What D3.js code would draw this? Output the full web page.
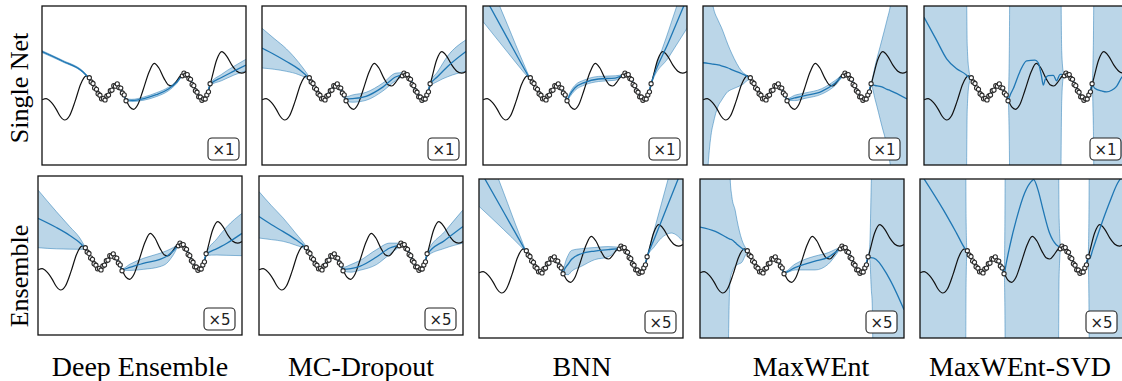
<!DOCTYPE html>
<html>
<head>
<meta charset="utf-8">
<script src="https://cdn.jsdelivr.net/npm/d3@7"></script>
<style>
	body { margin: 0; background: #fff; }
	svg { display: block; }
</style>
</head>
<body>
<svg id="chart" width="1122" height="381"></svg>
<script>

// ground truth curve, plot units (x 0..100, y 0..100)
const truthX = [0, 2, 4.5, 7, 9, 11.1, 13.5, 16.2, 19, 21.7, 24, 26.5, 28.5, 30.2, 32, 34.5, 36.7, 38.8, 41, 43, 44.9, 47, 49.5, 52.5, 55, 57.3, 59.8, 61.8, 63.6, 65.5, 67.8, 70.1, 72.3, 74.5, 76.8, 79.1, 81, 83.3, 85.6, 88.1, 90.5, 93, 95.5, 97.8, 100];
const truthY = [41, 41.8, 39.5, 35, 30.5, 28.3, 31, 40, 51, 56, 53, 47.5, 43, 41.3, 43, 48, 50.3, 47.5, 41.5, 36.5, 35, 38, 47, 58.5, 63.9, 61, 54.5, 50.5, 49.7, 52, 56, 57.2, 54.5, 49, 43.5, 40.9, 44, 55, 66, 71.3, 68.5, 63, 59, 57.8, 58.8];

// training points
const pointsX = [23.2, 24.1, 25.0, 25.8, 26.7, 27.5, 28.4, 29.2, 30.1, 30.9, 31.8, 32.6, 33.5, 34.3, 35.2, 36.0, 36.9, 37.7, 38.6, 39.4, 40.3, 41.2,
	68.8, 69.6, 70.4, 71.2, 72.0, 72.8, 73.6, 74.4, 75.2, 76.0, 76.8, 77.6, 78.4, 79.2, 80.0, 80.8, 81.6, 82.4];
const pointsY = [54.9, 52.2, 51.3, 48.5, 47.6, 44.8, 43.9, 41.6, 41.9, 40.9, 43.4, 44.0, 46.7, 47.1, 49.9, 49.6, 51.0, 48.7, 48.4, 45.3, 44.1, 40.4,
	56.1, 57.8, 56.6, 56.9, 54.4, 53.9, 50.7, 49.9, 46.7, 45.8, 42.9, 42.8, 40.7, 41.6, 41.5, 44.1, 46.0, 51.1];

const methods = ['Deep Ensemble', 'MC-Dropout', 'BNN', 'MaxWEnt', 'MaxWEnt-SVD'];
const rowNames = ['Single Net', 'Ensemble'];
const badges = ['×1', '×5'];

// predictions per panel: [x, mean, lower, upper]
const deSingle = [
	[0, 71.3, 70.7, 71.9], [10, 65.4, 64.9, 65.9], [20, 58.6, 58.1, 59.1],
	[23, 54.5, 54.0, 55.0], [26.5, 47.5, 47.0, 48.0], [30.2, 41.6, 41.1, 42.1], [33.5, 46.3, 45.8, 46.8],
	[36.7, 50.2, 49.7, 50.7], [39, 46.8, 46.3, 47.3], [41.3, 41.2, 40.7, 41.7],
	[44, 40.6, 39.9, 41.3], [50, 41.8, 40.8, 42.8], [56, 44.2, 43.0, 45.4], [62, 47.8, 46.7, 48.9], [66, 52.0, 51.2, 52.8],
	[69, 56.6, 56.1, 57.1], [70.1, 57.1, 56.6, 57.6], [72.5, 54.2, 53.7, 54.7], [75, 48.0, 47.5, 48.5],
	[77, 43.3, 42.8, 43.8], [79.1, 41.0, 40.5, 41.5], [81, 44.5, 44.0, 45.0], [82.4, 50.5, 50.0, 51.0],
	[88, 55.0, 53.0, 57.0], [94, 59.0, 56.5, 62.0], [100, 62.9, 59.3, 66.5]
];
const mcSingle = [
	[0, 73.5, 61.0, 86.0], [6, 69.5, 60.2, 79.5], [12, 65.1, 58.9, 73.0], [18, 60.3, 56.8, 64.5],
	[23, 54.5, 53.2, 55.8], [26.5, 47.5, 46.2, 48.8], [30.2, 41.6, 40.3, 42.9], [33.5, 46.3, 45.0, 47.6],
	[36.7, 50.2, 48.9, 51.5], [39, 46.8, 45.5, 48.1], [41.3, 41.5, 40.0, 43.0],
	[44.5, 41.8, 39.5, 44.1], [51, 43.2, 40.7, 45.7], [59.2, 49.0, 46.5, 51.5], [65.7, 55.5, 53.2, 57.8],
	[69, 56.8, 55.5, 58.1], [70.1, 57.1, 55.8, 58.4], [72.5, 54.2, 52.9, 55.5], [75, 48.0, 46.7, 49.3],
	[77, 43.3, 42.0, 44.6], [79.1, 41.0, 39.7, 42.3], [81, 44.5, 43.2, 45.8], [82.4, 50.5, 49.2, 51.8],
	[86, 55.5, 52.5, 58.5], [91, 62.0, 55.5, 68.5], [100, 71.4, 59.0, 78.7]
];
const bnnSingle = [
	[0, 107.7, 90.2, 125.0], [12, 79.6, 71.0, 88.2], [20, 61.0, 58.3, 63.5],
	[23, 54.3, 53.8, 54.8], [26.5, 47.5, 47.0, 48.0], [30.2, 41.6, 41.1, 42.1], [33.5, 46.3, 45.8, 46.8],
	[36.7, 50.2, 49.7, 50.7], [39, 46.8, 46.3, 47.3], [41.3, 41.2, 40.7, 41.7],
	[42.5, 44.0, 42.8, 45.2], [45, 48.4, 46.8, 50.0], [50, 52.0, 50.4, 53.6], [56.6, 54.1, 52.5, 55.7], [64.8, 54.7, 53.3, 56.1],
	[69, 56.6, 56.1, 57.1], [70.1, 57.1, 56.6, 57.6], [72.5, 54.2, 53.7, 54.7], [75, 48.0, 47.5, 48.5],
	[77, 43.3, 42.8, 43.8], [79.1, 41.0, 40.5, 41.5], [81, 44.5, 44.0, 45.0], [82.4, 51.0, 50.5, 51.5],
	[91, 77.3, 67.7, 84.6], [100, 104.9, 86.0, 119.3]
];
const mweSingle = [
	[0, 64.3, -60, 170], [2.5, 63.9, 0, 125], [4.1, 63.6, 20.3, 106], [5, 63.4, 26, 99.5], [7.4, 62.9, 37, 91],
	[9, 62.4, 40.5, 86.6], [12.3, 61.0, 46.3, 75.5], [14, 60.0, 47.5, 70.4], [19, 57.4, 50.3, 58.9],
	[23, 54.3, 53.8, 54.8], [26.5, 47.5, 47.0, 48.0], [30.2, 41.6, 41.1, 42.1], [33.5, 46.3, 45.8, 46.8],
	[36.7, 50.2, 49.7, 50.7], [39, 46.8, 46.3, 47.3], [41.3, 41.2, 40.6, 41.8],
	[45, 42.2, 40.5, 43.9], [50, 43.6, 41.9, 45.3], [58.2, 46.3, 44.6, 48.0], [64.8, 51.6, 50.0, 53.2],
	[69, 56.6, 56.0, 57.2], [70.1, 57.1, 56.6, 57.6], [72.5, 54.2, 53.7, 54.7], [75, 48.0, 47.5, 48.5],
	[77, 43.3, 42.8, 43.8], [79.1, 41.0, 40.5, 41.5], [81, 44.5, 44.0, 45.0], [82.4, 50.5, 50.0, 51.0],
	[84.4, 50.0, 41.1, 62.4], [87.7, 49.1, 24.4, 78.7], [90.2, 47.6, 11.9, 91.2], [91.8, 46.8, 0, 100],
	[94, 45.5, -25, 125], [100, 41.5, -60, 170]
];
const svdSingle = [
	[0, 93.0, -60, 170], [6.2, 78.4, -60, 170], [11.1, 66.8, -60, 170], [16, 60.5, -60, 170], [20.4, 57.0, -60, 170],
	[21.2, 56.0, 35, 75], [22.1, 55.2, 51, 59],
	[23, 54.5, 54.0, 55.0], [26.5, 47.5, 47.0, 48.0], [30.2, 41.6, 41.1, 42.1], [33.5, 46.3, 45.8, 46.8],
	[36.7, 50.2, 49.7, 50.7], [39, 46.8, 46.3, 47.3], [41.3, 41.2, 40.7, 41.7],
	[41.8, 42.5, 15, 70], [42.4, 44.5, -60, 170], [43.8, 48.1, -60, 170], [47, 58.7, -60, 170], [50.3, 65.5, -60, 170],
	[54.4, 65.9, -60, 170], [56, 64.3, -60, 170], [57.5, 56.5, -60, 170], [58.5, 50.2, -60, 170], [59.3, 53.4, -60, 170],
	[60.9, 56.2, -60, 170], [63.4, 56.4, -60, 170], [65, 53.0, -60, 170], [66.7, 57.0, -60, 170],
	[67.5, 57.0, 40, 72], [68.3, 56.8, 55, 58.5],
	[69, 56.6, 56.1, 57.1], [70.1, 57.1, 56.6, 57.6], [72.5, 54.2, 53.7, 54.7], [75, 48.0, 47.5, 48.5],
	[77, 43.3, 42.8, 43.8], [79.1, 41.0, 40.5, 41.5], [81, 44.5, 44.0, 45.0], [82.4, 50.5, 50.0, 51.0],
	[83, 49.5, 25, 75], [83.7, 48.3, -60, 170], [87.1, 46.6, -60, 170], [89.5, 46.0, -60, 170], [92, 47.0, -60, 170],
	[94.4, 49.5, -60, 170], [97, 55.3, -60, 170], [100, 58.5, -60, 170]
];
const deEnsemble = [
	[0, 73.4, 54.9, 91.2], [9, 67.6, 54.2, 77.6], [15.6, 62.6, 54.0, 68.1], [20.5, 58.0, 53.9, 61.0],
	[23, 54.7, 53.9, 55.6], [26.5, 47.5, 47.0, 48.0], [30.2, 41.6, 41.1, 42.1], [33.5, 46.3, 45.8, 46.8],
	[36.7, 50.2, 49.7, 50.7], [39, 46.8, 46.3, 47.3], [41.3, 41.2, 40.7, 41.7],
	[45, 42.5, 40.6, 44.5], [51.6, 45.1, 41.3, 48.2], [59.8, 47.6, 43.0, 51.4], [63.1, 49.5, 45.1, 53.0], [66.4, 53.0, 50.5, 55.1],
	[69, 56.6, 56.1, 57.1], [70.1, 57.1, 56.6, 57.6], [72.5, 54.2, 53.7, 54.7], [75, 48.0, 47.5, 48.5],
	[77, 43.3, 42.8, 43.8], [79.1, 41.0, 40.5, 41.5], [81, 44.5, 44.0, 45.0], [82.4, 50.5, 50.0, 51.0],
	[87.7, 54.3, 50.3, 60.5], [92.6, 57.7, 50.1, 68.1], [100, 63.9, 49.9, 76.5]
];
const mcEnsemble = [
	[0, 74.5, 61.0, 90.2], [6, 69.5, 60.0, 81.5], [11.9, 65.0, 58.9, 73.5], [18, 60.0, 56.5, 64.0],
	[23, 54.8, 53.6, 56.0], [26.5, 47.5, 46.3, 48.7], [30.2, 41.6, 40.4, 42.8], [33.5, 46.3, 45.1, 47.5],
	[36.7, 50.2, 49.0, 51.4], [39, 46.8, 45.6, 48.0], [41.3, 41.4, 40.2, 42.6],
	[45, 41.8, 39.5, 44.3], [49.4, 43.2, 40.7, 46.8], [57.6, 49.1, 44.3, 53.7], [64.1, 54.7, 50.8, 57.8],
	[69, 56.6, 55.4, 57.8], [70.1, 57.1, 56.1, 58.1], [72.5, 54.2, 53.2, 55.2], [75, 48.0, 47.0, 49.0],
	[77, 43.3, 42.3, 44.3], [79.1, 41.0, 40.0, 42.0], [81, 44.5, 43.5, 45.5], [82.4, 50.5, 49.5, 51.5],
	[91, 59.5, 54.5, 65.0], [100, 68.3, 57.8, 78.7]
];
const bnnEnsemble = [
	[0, 106.6, 82.8, 132.0], [12, 79.4, 68.3, 91.7], [20, 61.2, 58.2, 64.5],
	[23, 54.5, 54.0, 55.0], [26.5, 47.5, 47.0, 48.0], [30.2, 41.6, 41.1, 42.1], [33.5, 46.3, 45.8, 46.8],
	[36.7, 50.2, 49.7, 50.7], [39, 46.8, 46.3, 47.3], [41.3, 41.2, 40.7, 41.7],
	[42, 43.4, 40.0, 46.0], [43.7, 46.5, 39.8, 52.0], [45.4, 49.5, 42.0, 55.1], [50.2, 53.0, 45.1, 56.2],
	[56.8, 54.7, 49.3, 56.9], [63.3, 55.6, 51.0, 57.5],
	[69, 56.6, 56.1, 57.1], [70.1, 57.1, 56.6, 57.6], [72.5, 54.2, 53.7, 54.7], [75, 48.0, 47.5, 48.5],
	[77, 43.3, 42.8, 43.8], [79.1, 41.0, 40.5, 41.5], [81, 44.5, 44.0, 45.0], [82.4, 51.0, 50.5, 51.5],
	[86, 62.6, 57.5, 68.4], [89.4, 73.5, 62.9, 84.4], [94.3, 89.3, 66.0, 107.5], [100, 107.7, 60.8, 134.0]
];
const mweEnsemble = [
	[0, 69.8, -60, 170], [7.5, 67.1, -60, 170], [13.4, 63.0, -50, 165], [14, 62.6, 0, 140], [14.3, 62.4, 22, 125],
	[14.8, 62.1, 36.7, 100], [15.6, 61.8, 41.0, 89.1], [17.3, 60.0, 45.1, 80.0], [18.1, 59.0, 46.0, 74.4], [20.5, 56.5, 47.6, 61.8],
	[23, 54.2, 53.0, 55.3], [26.5, 47.5, 47.0, 48.0], [30.2, 41.6, 41.1, 42.1], [33.5, 46.3, 45.8, 46.8],
	[36.7, 50.2, 49.7, 50.7], [39, 46.8, 46.3, 47.3], [41.3, 41.2, 40.7, 41.7],
	[46.6, 44.3, 42.8, 46.5], [51.5, 46.5, 42.8, 49.5], [56.4, 48.3, 42.8, 51.5], [62.9, 50.9, 46.5, 53.7], [66.5, 54.0, 52.0, 55.8],
	[69, 56.6, 56.1, 57.1], [70.1, 57.1, 56.6, 57.6], [72.5, 54.2, 53.7, 54.7], [75, 48.0, 47.5, 48.5],
	[77, 43.3, 42.8, 43.8], [79.1, 41.0, 40.5, 41.5], [81, 44.5, 44.0, 45.0], [82.4, 50.8, 50.3, 51.3],
	[83.2, 50.6, 49.3, 57.7], [84, 50.5, 30.0, 100], [84.4, 50.4, 22.0, 120], [85.2, 50.3, -40, 160],
	[92.2, 38.8, -60, 170], [100, 17.8, -60, 170]
];
const svdEnsemble = [
	[0, 104.0, -60, 170], [11.4, 80.7, -60, 170], [17.9, 66.0, -60, 170], [22.2, 56.0, -60, 170], [22.6, 55.4, 35, 75],
	[23, 54.5, 54.0, 55.0], [26.5, 47.5, 47.0, 48.0], [30.2, 41.6, 41.1, 42.1], [33.5, 46.3, 45.8, 46.8],
	[36.7, 50.2, 49.7, 50.7], [39, 46.8, 46.3, 47.3], [41.3, 41.2, 40.7, 41.7],
	[41.6, 42.0, 20, 70], [42, 45.0, -60, 170], [44, 57.7, -60, 170], [47.2, 74.4, -60, 170], [51.3, 91.2, -60, 170],
	[54.6, 98.5, -60, 170], [55.7, 99.6, -60, 170], [57.8, 93.3, -60, 170], [60.3, 80.7, -60, 170], [63.5, 66.0, -60, 170],
	[66.8, 58.7, -60, 170], [67.6, 57.9, -60, 170], [68.2, 57.4, 40, 75],
	[69, 56.6, 56.1, 57.1], [70.1, 57.1, 56.6, 57.6], [72.5, 54.2, 53.7, 54.7], [75, 48.0, 47.5, 48.5],
	[77, 43.3, 42.8, 43.8], [79.1, 41.0, 40.5, 41.5], [81, 44.5, 44.0, 45.0], [82.4, 50.5, 50.0, 51.0],
	[82.8, 49.8, 25, 75], [83.2, 50.0, -60, 170], [84.7, 55.6, -60, 170], [88, 68.1, -60, 170],
	[92.8, 84.9, -60, 170], [96.9, 97.5, -60, 170], [100, 103.0, -60, 170]
];

const predictions = [
	[deSingle, mcSingle, bnnSingle, mweSingle, svdSingle],
	[deEnsemble, mcEnsemble, bnnEnsemble, mweEnsemble, svdEnsemble]
];

// layout (pixels)
const PANEL_W = 204,
	PANEL_H = 159,
	panelLeft = [[42, 262, 483, 703, 924], [38, 259, 479, 700, 920]],
	panelTop = [[6, 6, 6, 6, 6], [176, 176, 179, 179, 179]],
	titleX = [140, 361, 582, 811, 1020],
	rowLabelY = [88, 276];

const BLUE = '#1f77b4';

let svg = d3.select('#chart'),
	defs = svg.append('defs');

let truth = truthX.map((x, i) => [x, truthY[i]]),
	points = pointsX.map((x, i) => [x, pointsY[i]]);

rowNames.forEach((rowName, r) => {

	methods.forEach((method, c) => {

		let left = panelLeft[r][c],
			top = panelTop[r][c],
			x = d3.scaleLinear().domain([0, 100]).range([left, left + PANEL_W]),
			y = d3.scaleLinear().domain([0, 100]).range([top + PANEL_H, top]),
			clipId = 'clip-' + r + '-' + c,
			data = predictions[r][c];

		defs.append('clipPath').attr('id', clipId)
			.append('rect')
			.attr('x', left).attr('y', top)
			.attr('width', PANEL_W).attr('height', PANEL_H);

		let g = svg.append('g').attr('clip-path', 'url(#' + clipId + ')');

		let area = d3.area()
			.x(d => x(d[0]))
			.y0(d => y(d[2]))
			.y1(d => y(d[3]))
			.curve(d3.curveMonotoneX);

		let edge = idx => d3.line()
			.x(d => x(d[0]))
			.y(d => y(d[idx]))
			.curve(d3.curveMonotoneX);

		g.append('path')
			.attr('d', area(data))
			.attr('fill', BLUE)
			.attr('fill-opacity', 0.3)
			.attr('stroke', 'none');

		[2, 3].forEach(idx => {
			g.append('path')
				.attr('d', edge(idx)(data))
				.attr('fill', 'none')
				.attr('stroke', BLUE)
				.attr('stroke-opacity', 0.55)
				.attr('stroke-width', 0.9);
		});

		// true function
		g.append('path')
			.attr('d', d3.line().x(d => x(d[0])).y(d => y(d[1])).curve(d3.curveMonotoneX)(truth))
			.attr('fill', 'none')
			.attr('stroke', '#111')
			.attr('stroke-width', 1.2);

		// predictive mean
		g.append('path')
			.attr('d', edge(1)(data))
			.attr('fill', 'none')
			.attr('stroke', BLUE)
			.attr('stroke-width', 1.3);

		g.selectAll('circle')
			.data(points)
			.enter().append('circle')
			.attr('cx', d => x(d[0]))
			.attr('cy', d => y(d[1]))
			.attr('r', 2.1)
			.attr('fill', '#fff')
			.attr('stroke', '#2a2a2a')
			.attr('stroke-width', 1.1);

		// frame
		svg.append('rect')
			.attr('x', left).attr('y', top)
			.attr('width', PANEL_W).attr('height', PANEL_H)
			.attr('fill', 'none')
			.attr('stroke', '#111')
			.attr('stroke-width', 1.3);

		// member count badge
		let bx = left + PANEL_W - 38,
			by = top + PANEL_H - 27;
		svg.append('rect')
			.attr('x', bx).attr('y', by)
			.attr('width', 31).attr('height', 22)
			.attr('rx', 4)
			.attr('fill', '#fff')
			.attr('stroke', '#222')
			.attr('stroke-width', 1.1);
		svg.append('text')
			.attr('x', bx + 15.5).attr('y', by + 16.5)
			.attr('text-anchor', 'middle')
			.attr('font-family', 'DejaVu Sans')
			.attr('font-size', 15)
			.attr('fill', '#222')
			.text(badges[r]);

	});

	svg.append('text')
		.attr('transform', 'translate(28,' + rowLabelY[r] + ') rotate(-90)')
		.attr('text-anchor', 'middle')
		.attr('font-family', 'Liberation Serif')
		.attr('font-size', 26)
		.attr('fill', '#000')
		.text(rowName);

});

methods.forEach((method, c) => {
	svg.append('text')
		.attr('x', titleX[c]).attr('y', 376)
		.attr('text-anchor', 'middle')
		.attr('font-family', 'Liberation Serif')
		.attr('font-size', 28)
		.attr('fill', '#000')
		.text(method);
});

</script>
</body>
</html>
